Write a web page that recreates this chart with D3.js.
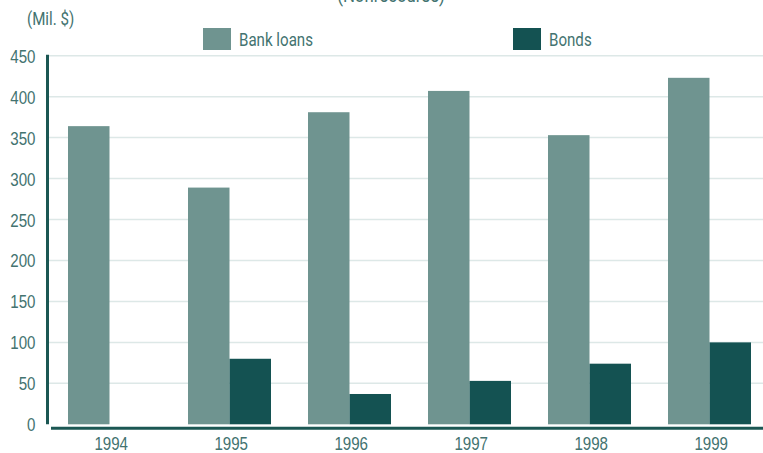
<!DOCTYPE html>
<html>
<head>
<meta charset="utf-8">
<script src="https://cdn.jsdelivr.net/npm/d3@7"></script>
<style>
  html, body { margin: 0; padding: 0; background: #fff; }
  svg { display: block; font-family: Roboto, "DejaVu Sans Condensed", sans-serif; }
</style>
</head>
<body>
<svg id="chart" width="763" height="453"></svg>
<script>
// Nonrecourse financing by type, millions of dollars
const years = ["1994", "1995", "1996", "1997", "1998", "1999"];
const bankLoans = [364, 289, 381, 407, 353, 423];
const bonds = [0, 80, 37, 53, 74, 100];
const seriesNames = ["Bank loans", "Bonds"];
const seriesColors = ["#6f9490", "#145252"];
const yTicks = [0, 50, 100, 150, 200, 250, 300, 350, 400, 450];

const svg = d3.select("#chart");
const textColor = "#437370";
const axisColor = "#1b5753";
const squeeze = 0.84; // horizontal narrowing for a condensed look

// Narrow text horizontally while keeping its anchor position
function condense(sel) {
  sel.each(function () {
    const t = d3.select(this);
    const x0 = +(t.attr("x") || 0);
    t.attr("x", x0 / squeeze).attr("transform", `scale(${squeeze},1)`);
  });
}

const y = d3.scaleLinear().domain([0, 450]).range([424.3, 55.7]);
const x = d3.scaleBand().domain(years).range([49.5, 769.5])
  .paddingInner(37 / 120).paddingOuter(37 / 240);
const xs = d3.scaleBand().domain(seriesNames).range([0, x.bandwidth()]);

// Horizontal gridlines
svg.append("g").selectAll("line")
  .data(yTicks.filter(d => d > 0))
  .join("line")
  .attr("x1", 49).attr("x2", 763)
  .attr("y1", d => y(d)).attr("y2", d => y(d))
  .attr("stroke", "#dde8e7").attr("stroke-width", 1.5);

// Bars
const rows = years.map((yr, i) => ({ year: yr, values: [bankLoans[i], bonds[i]] }));
const groups = svg.append("g").selectAll("g")
  .data(rows).join("g")
  .attr("transform", d => `translate(${x(d.year)},0)`);
groups.selectAll("rect")
  .data(d => d.values.map((v, j) => ({ name: seriesNames[j], value: v, color: seriesColors[j] })))
  .join("rect")
  .attr("x", d => xs(d.name))
  .attr("width", xs.bandwidth())
  .attr("y", d => y(d.value))
  .attr("height", d => y(0) - y(d.value))
  .attr("fill", d => d.color);

// Y axis
const yAxis = svg.append("g")
  .attr("transform", "translate(47.5,0)")
  .call(d3.axisLeft(y).tickValues(yTicks).tickSize(0).tickPadding(12));
yAxis.select(".domain").attr("stroke", axisColor).attr("stroke-width", 3)
  .attr("d", `M0,${y(450) - 1}V${y(0)}`);
yAxis.selectAll("text").attr("fill", textColor).attr("font-size", 18)
  .attr("font-family", "inherit").attr("dy", "0.36em").call(condense);

// X axis
const xAxis = svg.append("g")
  .attr("transform", `translate(0,${y(0) + 4})`)
  .call(d3.axisBottom(x).tickSize(0).tickPadding(9));
xAxis.select(".domain").attr("stroke", axisColor).attr("stroke-width", 3)
  .attr("d", "M51,0H763");
xAxis.selectAll("text").attr("fill", textColor).attr("font-size", 18)
  .attr("font-family", "inherit").attr("dx", 2).call(condense);

// Title and unit label
svg.append("text").attr("x", 391).attr("y", 2).attr("text-anchor", "middle")
  .attr("fill", textColor).attr("font-size", 20).text("(Nonrecourse)").call(condense);
svg.append("text").attr("x", 27).attr("y", 25)
  .attr("fill", textColor).attr("font-size", 18).text("(Mil. $)").call(condense);

// Legend
const legendX = [203, 513];
const legend = svg.append("g").selectAll("g")
  .data(seriesNames).join("g")
  .attr("transform", (d, i) => `translate(${legendX[i]},28)`);
legend.append("rect").attr("width", 28).attr("height", 22)
  .attr("fill", (d, i) => seriesColors[i]);
legend.append("text").attr("x", 36).attr("y", 18)
  .attr("fill", textColor).attr("font-size", 18).text(d => d).call(condense);
</script>
</body>
</html>
